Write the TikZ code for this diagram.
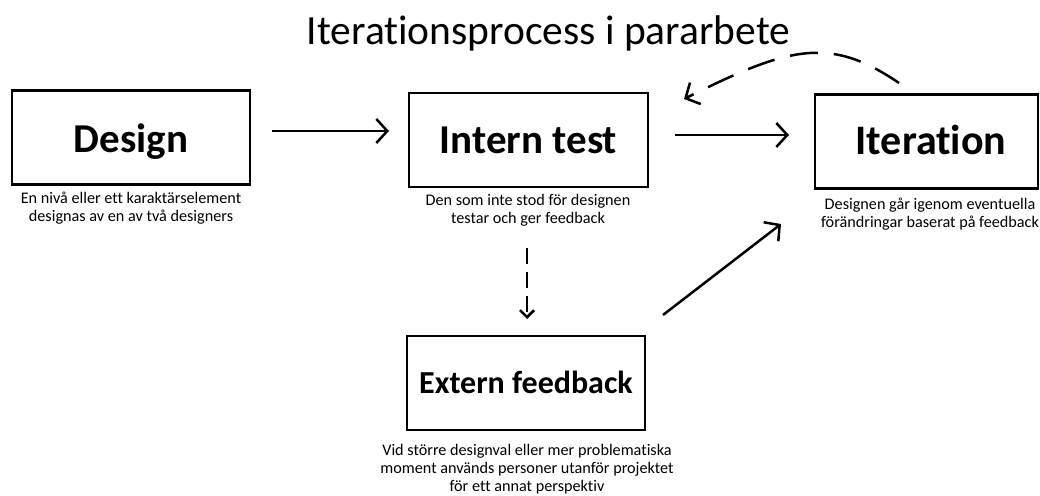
\documentclass[tikz,border=0pt]{standalone}
\usepackage{fontspec}
\setmainfont[Ligatures=NoCommon]{Carlito}
\usetikzlibrary{arrows.meta}
\begin{document}
\begin{tikzpicture}[x=1pt,y=-1pt,
  box/.style={draw=black, line width=2.8pt, minimum width=#1, minimum height=94pt, inner sep=0pt, font=\fontsize{41}{48}\selectfont\bfseries, text height=26.4pt, text depth=0pt},
  box/.default=238pt,
  captxt/.style={align=center, font=\fontsize{16.2}{18}\selectfont, inner sep=0pt, anchor=north},
  arr/.style={line width=2.5pt, -{Straight Barb[length=11pt,width=24pt,line width=2.5pt]}},
  dsh/.style={arr, dash pattern=on 28pt off 16pt}]
\useasboundingbox (0,0) rectangle (1040,495);
\node[font=\fontsize{41.5}{48}\selectfont, anchor=base] (title) at (548.5,45) {Iterationsprocess i pararbete};
\node[box] (design) at (131,137.5) {\raisebox{-2pt}{Design}};
\node[box=239pt] (intern) at (528.5,140) {Intern test};
\node[box=223pt, font=\fontsize{42}{48}\selectfont\bfseries] (iter) at (926.5,141.5) {\hspace*{9pt}Iteration};
\node[box, font=\fontsize{32}{40}\selectfont\bfseries, text height=20.6pt] (extern) at (526,383) {Extern feedback};
\node[captxt] (c1) at (131,191.5) {En nivå eller ett karaktärselement\\designas av en av två designers};
\node[captxt] (c2) at (528,194.5) {Den som inte stod för designen\\testar och ger feedback};
\node[captxt] (c3) at (930,197.5) {Designen går igenom eventuella\\förändringar baserat på feedback};
\node[captxt] (c4) at (527,444.5) {Vid större designval eller mer problematiska\\moment används personer utanför projektet\\för ett annat perspektiv};
\coordinate (a1s) at (272,131); \coordinate (a1e) at (389,131);
\coordinate (a2s) at (675,135); \coordinate (a2e) at (789,135);
\coordinate (a3s) at (527,248); \coordinate (a3e) at (527,319);
\coordinate (a4s) at (663,315); \coordinate (a4e) at (781,224);
\coordinate (a5s) at (899,83); \coordinate (a5e) at (684,99);
\draw[arr] (a1s) -- (a1e);
\draw[arr] (a2s) -- (a2e);
\draw[arr, dash pattern=on 16pt off 8pt, -{Straight Barb[length=7pt,width=14pt,line width=2.5pt]}] (a3s) -- (a3e);
\draw[arr] (a4s) -- (a4e);
\draw[dsh] (a5s) .. controls (830,36) and (790,46) .. (a5e);
\end{tikzpicture}
\end{document}
